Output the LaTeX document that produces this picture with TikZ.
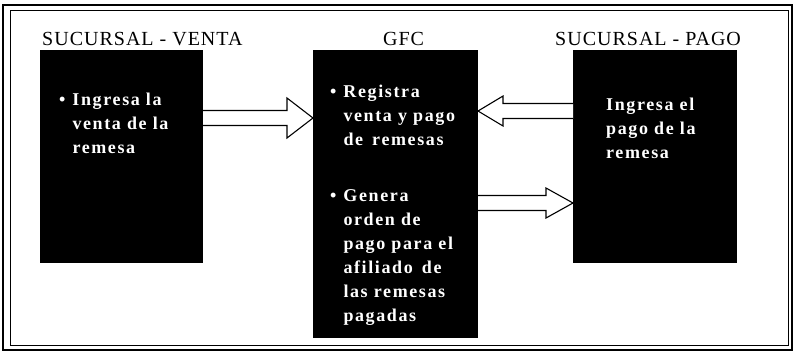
\documentclass[tikz,border=0pt]{standalone}
\usepackage{fontspec}
\setmainfont{Liberation Serif}
\newfontfamily\titulofont{Liberation Serif}[LetterSpace=5]
\newfontfamily\cajafont{Liberation Serif}[LetterSpace=9]
\usepackage{tikz}
\usetikzlibrary{calc}
\tikzset{
  caja/.style={fill=black, draw=none, inner sep=0pt, outer sep=0pt, anchor=north west},
  titulo/.style={font=\titulofont\fontsize{20bp}{24bp}\selectfont, anchor=base west, inner sep=0pt},
  texto/.style={text=white, font=\cajafont\bfseries\fontsize{18bp}{24bp}\selectfont,
                anchor=base west, inner sep=0pt},
  flecha/.style={draw=black, fill=white, line width=1.1bp, line join=miter},
}

\begin{document}
\begin{tikzpicture}[x=1bp, y=-1bp]
\useasboundingbox (0,0) rectangle (795,352);
% marco doble
\draw[line width=2bp] (3,5) rectangle (792,350);
\draw[line width=0.9bp] (10,10) rectangle (788,345);

% cajas
\node[caja, minimum width=163bp, minimum height=213bp] (venta) at (40,50) {};
\node[caja, minimum width=165bp, minimum height=288bp] (gfc) at (313,50) {};
\node[caja, minimum width=164bp, minimum height=213bp] (pago) at (573,50) {};

% titulos
\node[titulo] (tventa) at (42,45) {SUCURSAL - VENTA};
\node[titulo] (tgfc) at (383,45) {GFC};
\node[titulo] (tpago) at (555,45) {SUCURSAL - PAGO};

% textos
\node[texto] (xventa) at (59,105) {\begin{tabular}[t]{@{}l@{\hspace{7bp}}l@{}}
  \textbullet & Ingresa la\\ & venta de la\\ & remesa\end{tabular}};
\node[texto] (xregistra) at (330,97) {\begin{tabular}[t]{@{}l@{\hspace{7bp}}l@{}}
  \textbullet & Registra\\ & venta y pago\\ & de\, remesas\end{tabular}};
\node[texto] (xgenera) at (330,201) {\begin{tabular}[t]{@{}l@{\hspace{7bp}}l@{}}
  \textbullet & Genera\\ & orden de\\ & pago para el\\ & afiliado\, de\\ & las remesas\\ & pagadas\end{tabular}};
\node[texto] (xpago) at (606,110) {\begin{tabular}[t]{@{}l@{}}
  Ingresa el\\ pago de la\\ remesa\end{tabular}};

% flechas
\coordinate (f1) at (0,118);
\coordinate (f2) at (0,111);
\coordinate (f3) at (0,203);
\draw[flecha] ($(venta.east |- f1)+(0,-7.5)$) -- ($(gfc.west |- f1)+(-26,-7.5)$)
  -- ($(gfc.west |- f1)+(-26,-20)$) -- (gfc.west |- f1) -- ($(gfc.west |- f1)+(-26,20)$)
  -- ($(gfc.west |- f1)+(-26,7.5)$) -- ($(venta.east |- f1)+(0,7.5)$);
\draw[flecha] ($(pago.west |- f2)+(0,-7.5)$) -- ($(gfc.east |- f2)+(25,-7.5)$)
  -- ($(gfc.east |- f2)+(25,-15)$) -- (gfc.east |- f2) -- ($(gfc.east |- f2)+(25,15)$)
  -- ($(gfc.east |- f2)+(25,7.5)$) -- ($(pago.west |- f2)+(0,7.5)$);
\draw[flecha] ($(gfc.east |- f3)+(0,-7.5)$) -- ($(pago.west |- f3)+(-27,-7.5)$)
  -- ($(pago.west |- f3)+(-27,-15)$) -- (pago.west |- f3) -- ($(pago.west |- f3)+(-27,15)$)
  -- ($(pago.west |- f3)+(-27,7.5)$) -- ($(gfc.east |- f3)+(0,7.5)$);
\end{tikzpicture}
\end{document}
